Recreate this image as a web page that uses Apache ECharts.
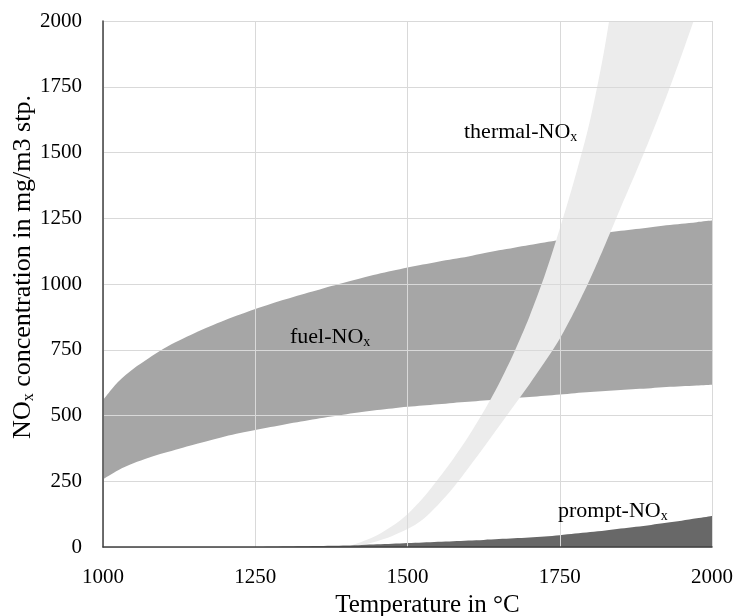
<!DOCTYPE html>
<html>
<head>
<meta charset="utf-8">
<script src="https://cdn.jsdelivr.net/npm/echarts@6/dist/echarts.min.js"></script>
<style>
  html, body { margin: 0; padding: 0; background: #fff; }
  #chart { width: 738px; height: 616px; }
</style>
</head>
<body>
<div id="chart"></div>
<script>
// temperature grid, 25 °C steps
const temps = [1000, 1025, 1050, 1075, 1100, 1125, 1150, 1175, 1200, 1225, 1250,
  1275, 1300, 1325, 1350, 1375, 1400, 1425, 1450, 1475, 1500,
  1525, 1550, 1575, 1600, 1625, 1650, 1675, 1700, 1725, 1750,
  1775, 1800, 1825, 1850, 1875, 1900, 1925, 1950, 1975, 2000];

// fuel-NOx band
const fuelLow = [258, 292, 318, 339, 357, 374, 390, 405, 420, 433, 445,
  456, 467, 477, 487, 496, 505, 513, 521, 527, 533,
  538, 543, 548, 552, 557, 561, 566, 570, 575, 580,
  585, 589, 593, 597, 601, 604, 608, 611, 614, 617];
const fuelHigh = [558, 628, 678, 718, 755, 785, 813, 838, 862, 884, 905,
  924, 942, 959, 975, 992, 1008, 1023, 1037, 1050, 1063,
  1074, 1085, 1095, 1105, 1117, 1128, 1138, 1148, 1158, 1167,
  1176, 1185, 1194, 1202, 1209, 1216, 1223, 1229, 1235, 1241];

// thermal-NOx band (upper edge leaves the plot near 1830 °C)
const thermalLow = [null, null, null, null, null, null, null, null, null, null, null,
  null, null, null, null, null, 0, 8, 22, 42, 68,
  105, 160, 225, 300, 378, 458, 538, 618, 702, 792,
  900, 1020, 1152, 1290, 1425, 1565, 1712, 1870, 2035, 2205];
const thermalHigh = [null, null, null, null, null, null, null, null, null, null, null,
  null, null, null, null, null, 0, 20, 45, 80, 125,
  185, 258, 335, 420, 515, 620, 740, 875, 1030, 1210,
  1405, 1625, 1915, 2300, 2750, 3250, 3800, 4400, 5050, 5750];

// prompt-NOx
const promptVal = [0, 0, 0, 0, 0, 0, 0, 0, 0, 0, 0,
  1, 2, 3, 4, 5, 6, 8, 10, 12, 15,
  17, 20, 22, 25, 27, 30, 33, 36, 40, 45,
  51, 57, 63, 70, 77, 84, 92, 100, 109, 118];

const yTicks = [0, 250, 500, 750, 1000, 1250, 1500, 1750, 2000];

const font = "'Liberation Serif', 'Times New Roman', serif";
const tickSize = 21;

function diff(hi, lo) {
  return hi.map((v, i) => (v == null ? null : v - lo[i]));
}

const hidden = { width: 0, opacity: 0 };
const main = { fontFamily: font, fontSize: 22, color: '#000', lineHeight: 24 };
const sub = { fontFamily: font, fontSize: 14, color: '#000', verticalAlign: 'bottom', lineHeight: 14 };
const titleMain = { fontFamily: font, fontSize: 26, color: '#000', lineHeight: 28 };
const titleSub = { fontFamily: font, fontSize: 16, color: '#000', verticalAlign: 'bottom', lineHeight: 16 };

function noxLabel(text, left, top) {
  return {
    type: 'text',
    left: left,
    top: top,
    z: 10,
    style: {
      text: '{a|' + text + '}{b|x}',
      rich: { a: main, b: sub }
    }
  };
}

const option = {
  animation: false,
  backgroundColor: '#fff',
  grid: { left: 103, right: 26, top: 21, bottom: 69, containLabel: false, outerBoundsMode: 'none' },
  xAxis: {
    type: 'category',
    data: temps,
    boundaryGap: false,
    z: 5,
    name: 'Temperature in °C',
    nameLocation: 'middle',
    nameGap: 46,
    nameMoveOverlap: false,
    nameTextStyle: { fontFamily: font, fontSize: 25, color: '#000', padding: [0, 0, 0, 40] },
    axisLine: { lineStyle: { color: '#404040', width: 1.5 } },
    axisTick: { show: false },
    axisLabel: { interval: 9, fontFamily: font, fontSize: tickSize, color: '#000', margin: 20 },
    splitLine: { show: true, interval: 9, lineStyle: { color: '#d9d9d9', width: 1 } }
  },
  yAxis: {
    type: 'value',
    min: yTicks[0],
    max: yTicks[yTicks.length - 1],
    interval: 250,
    z: 5,
    name: '{a|NO}{b|x}{a| concentration in mg/m3 stp.}',
    nameLocation: 'middle',
    nameGap: 66,
    nameMoveOverlap: false,
    nameTextStyle: { rich: { a: titleMain, b: titleSub }, padding: [0, 0, 0, 34] },
    axisLine: { show: true, lineStyle: { color: '#404040', width: 1.5 } },
    axisTick: { show: false },
    axisLabel: {
      fontFamily: font, fontSize: tickSize, color: '#000', margin: 21,
      formatter: function (v) { return String(v); }
    },
    splitLine: { lineStyle: { color: '#d9d9d9', width: 1 } }
  },
  series: [
    {
      type: 'line', stack: 'fuel', smooth: 0.3, symbol: 'none',
      lineStyle: hidden, data: fuelLow
    },
    {
      type: 'line', stack: 'fuel', smooth: 0.3, symbol: 'none',
      lineStyle: hidden, areaStyle: { color: '#a6a6a6', opacity: 1 },
      data: diff(fuelHigh, fuelLow)
    },
    {
      type: 'line', stack: 'thermal', smooth: 0.3, symbol: 'none',
      lineStyle: hidden, data: thermalLow
    },
    {
      type: 'line', stack: 'thermal', smooth: 0.3, symbol: 'none',
      lineStyle: hidden, areaStyle: { color: '#ececec', opacity: 1 },
      data: diff(thermalHigh, thermalLow)
    },
    {
      type: 'line', smooth: 0.3, symbol: 'none',
      lineStyle: hidden, areaStyle: { color: '#686868', opacity: 1 },
      data: promptVal
    }
  ],
  graphic: [
    noxLabel('fuel-NO', 290, 326),
    noxLabel('thermal-NO', 464, 121),
    noxLabel('prompt-NO', 558, 500)
  ]
};

const myChart = echarts.init(document.getElementById('chart'), null, { renderer: 'canvas' });
myChart.setOption(option);
window.addEventListener('resize', function () {
  myChart.resize();
});
</script>
</body>
</html>
